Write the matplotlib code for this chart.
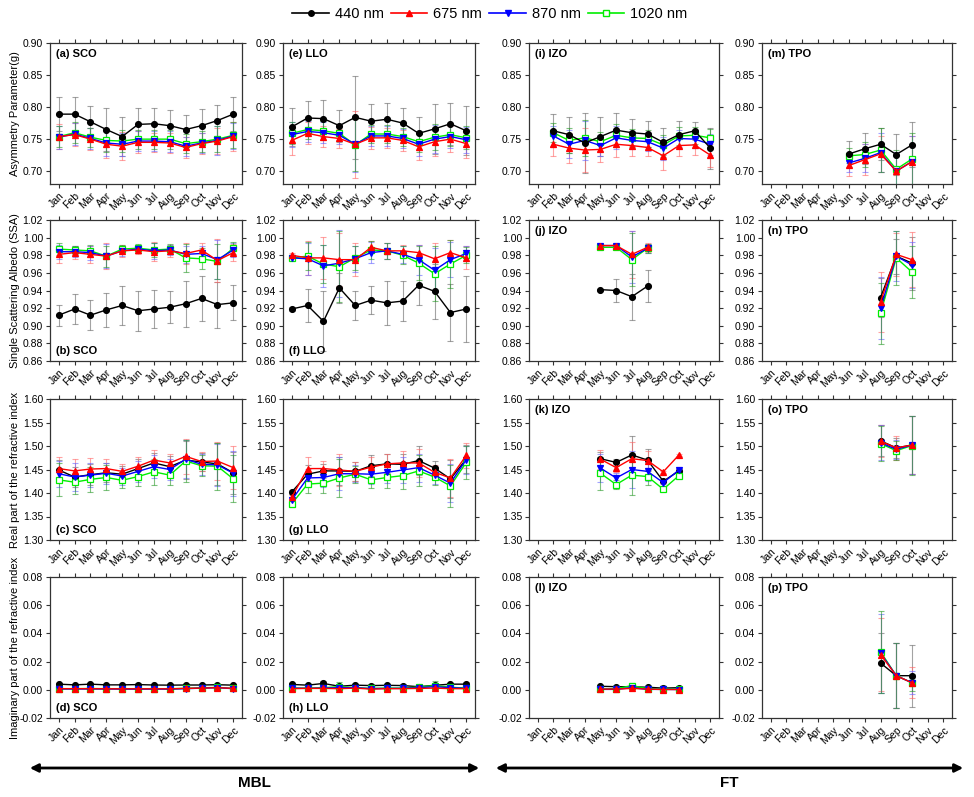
import matplotlib
matplotlib.use("Agg")
import matplotlib.pyplot as plt
from matplotlib.patches import FancyArrowPatch
from matplotlib.lines import Line2D

plt.rcParams['font.family'] = ['Liberation Sans', 'DejaVu Sans']

months = ['Jan', 'Feb', 'Mar', 'Apr', 'May', 'Jun', 'Jul', 'Aug', 'Sep', 'Oct', 'Nov', 'Dec']
waves = ['440 nm', '675 nm', '870 nm', '1020 nm']

# month numbers with data for each site
m_full = [1, 2, 3, 4, 5, 6, 7, 8, 9, 10, 11, 12]
m_izo_g = [2, 3, 4, 5, 6, 7, 8, 9, 10, 11, 12]
m_tpo_g = [6, 7, 8, 9, 10]
m_izo_ssa = [5, 6, 7, 8]
m_tpo_ssa = [8, 9, 10]
m_izo_n = [5, 6, 7, 8, 9, 10]
m_tpo_n = [8, 9, 10]

# ---- asymmetry parameter (rows: 440, 675, 870, 1020) ----
g_sco = [[0.789, 0.789, 0.777, 0.765, 0.754, 0.773, 0.774, 0.771, 0.765, 0.771, 0.779, 0.789],
         [0.754, 0.757, 0.750, 0.742, 0.739, 0.745, 0.745, 0.744, 0.737, 0.743, 0.747, 0.754],
         [0.753, 0.758, 0.751, 0.744, 0.742, 0.747, 0.747, 0.746, 0.739, 0.744, 0.748, 0.755],
         [0.754, 0.760, 0.753, 0.748, 0.747, 0.750, 0.750, 0.750, 0.743, 0.746, 0.750, 0.756]]
g_sco_err = [[0.026, 0.027, 0.024, 0.033, 0.030, 0.025, 0.024, 0.024, 0.022, 0.026, 0.024, 0.026],
             [0.020, 0.018, 0.017, 0.022, 0.022, 0.017, 0.015, 0.016, 0.016, 0.016, 0.020, 0.022],
             [0.018, 0.017, 0.016, 0.020, 0.018, 0.016, 0.015, 0.016, 0.015, 0.016, 0.022, 0.020],
             [0.017, 0.016, 0.015, 0.018, 0.017, 0.015, 0.015, 0.015, 0.015, 0.016, 0.020, 0.020]]
g_llo = [[0.769, 0.783, 0.782, 0.771, 0.784, 0.778, 0.781, 0.775, 0.759, 0.766, 0.774, 0.763],
         [0.748, 0.759, 0.754, 0.751, 0.742, 0.752, 0.752, 0.748, 0.738, 0.746, 0.750, 0.743],
         [0.757, 0.762, 0.760, 0.756, 0.742, 0.755, 0.755, 0.751, 0.742, 0.750, 0.754, 0.749],
         [0.759, 0.765, 0.763, 0.759, 0.741, 0.758, 0.758, 0.754, 0.746, 0.753, 0.757, 0.752]]
g_llo_err = [[0.030, 0.026, 0.029, 0.025, 0.065, 0.027, 0.025, 0.023, 0.026, 0.039, 0.033, 0.038],
             [0.022, 0.017, 0.017, 0.015, 0.052, 0.017, 0.016, 0.016, 0.020, 0.022, 0.020, 0.022],
             [0.019, 0.016, 0.016, 0.013, 0.043, 0.015, 0.015, 0.015, 0.018, 0.022, 0.018, 0.020],
             [0.017, 0.015, 0.015, 0.012, 0.040, 0.014, 0.014, 0.014, 0.016, 0.020, 0.017, 0.018]]
g_izo = [[0.763, 0.757, 0.744, 0.754, 0.764, 0.760, 0.758, 0.745, 0.757, 0.763, 0.736],
         [0.742, 0.736, 0.733, 0.734, 0.742, 0.740, 0.737, 0.724, 0.740, 0.741, 0.725],
         [0.755, 0.742, 0.748, 0.740, 0.752, 0.748, 0.746, 0.736, 0.751, 0.750, 0.742],
         [0.760, 0.748, 0.752, 0.746, 0.756, 0.752, 0.751, 0.741, 0.755, 0.756, 0.752]]
g_izo_err = [[0.026, 0.028, 0.047, 0.030, 0.026, 0.021, 0.020, 0.023, 0.021, 0.014, 0.032],
             [0.018, 0.023, 0.035, 0.020, 0.020, 0.016, 0.014, 0.022, 0.016, 0.016, 0.018],
             [0.016, 0.022, 0.030, 0.016, 0.018, 0.014, 0.014, 0.018, 0.014, 0.014, 0.016],
             [0.015, 0.020, 0.028, 0.015, 0.018, 0.014, 0.013, 0.016, 0.014, 0.013, 0.014]]
g_tpo = [[0.727, 0.735, 0.742, 0.726, 0.741],
         [0.709, 0.718, 0.727, 0.700, 0.715],
         [0.713, 0.720, 0.729, 0.700, 0.715],
         [0.724, 0.726, 0.733, 0.703, 0.719]]
g_tpo_err = [[0.020, 0.024, 0.025, 0.032, 0.035],
             [0.016, 0.024, 0.028, 0.006, 0.040],
             [0.014, 0.022, 0.030, 0.030, 0.040],
             [0.012, 0.020, 0.035, 0.030, 0.040]]

# ---- single scattering albedo ----
ssa_sco = [[0.912, 0.919, 0.912, 0.918, 0.923, 0.917, 0.919, 0.921, 0.925, 0.931, 0.924, 0.926],
           [0.981, 0.983, 0.981, 0.979, 0.985, 0.986, 0.984, 0.985, 0.982, 0.986, 0.974, 0.983],
           [0.984, 0.984, 0.983, 0.979, 0.985, 0.987, 0.985, 0.986, 0.981, 0.982, 0.975, 0.986],
           [0.987, 0.986, 0.985, 0.979, 0.987, 0.988, 0.986, 0.987, 0.977, 0.976, 0.973, 0.988]]
ssa_sco_err = [[0.012, 0.017, 0.017, 0.019, 0.022, 0.023, 0.022, 0.018, 0.026, 0.026, 0.026, 0.020],
               [0.010, 0.007, 0.010, 0.015, 0.007, 0.005, 0.011, 0.007, 0.012, 0.008, 0.024, 0.010],
               [0.008, 0.006, 0.008, 0.014, 0.006, 0.005, 0.009, 0.006, 0.010, 0.008, 0.022, 0.008],
               [0.007, 0.005, 0.007, 0.012, 0.005, 0.005, 0.008, 0.006, 0.016, 0.012, 0.020, 0.007]]
ssa_llo = [[0.919, 0.923, 0.905, 0.943, 0.923, 0.929, 0.926, 0.928, 0.946, 0.939, 0.915, 0.919],
           [0.980, 0.977, 0.977, 0.975, 0.975, 0.989, 0.985, 0.985, 0.983, 0.976, 0.983, 0.977],
           [0.977, 0.976, 0.968, 0.971, 0.976, 0.983, 0.985, 0.981, 0.975, 0.963, 0.975, 0.982],
           [0.977, 0.979, 0.970, 0.967, 0.977, 0.986, 0.985, 0.980, 0.971, 0.959, 0.970, 0.980]]
ssa_llo_err = [[0.002, 0.019, 0.034, 0.017, 0.016, 0.016, 0.025, 0.023, 0.023, 0.031, 0.032, 0.037],
               [0.002, 0.019, 0.024, 0.030, 0.019, 0.007, 0.009, 0.007, 0.009, 0.018, 0.014, 0.013],
               [0.002, 0.018, 0.024, 0.038, 0.015, 0.012, 0.009, 0.010, 0.017, 0.025, 0.020, 0.008],
               [0.002, 0.016, 0.022, 0.040, 0.014, 0.010, 0.009, 0.010, 0.019, 0.031, 0.027, 0.009]]
ssa_izo = [[0.941, 0.940, 0.933, 0.945],
           [0.991, 0.991, 0.981, 0.989],
           [0.991, 0.991, 0.978, 0.988],
           [0.989, 0.989, 0.975, 0.988]]
ssa_izo_err = [[0.001, 0.013, 0.026, 0.018],
               [0.001, 0.002, 0.027, 0.005],
               [0.001, 0.002, 0.030, 0.005],
               [0.001, 0.002, 0.030, 0.005]]
ssa_tpo = [[0.932, 0.979, 0.971],
           [0.927, 0.981, 0.975],
           [0.920, 0.979, 0.969],
           [0.914, 0.977, 0.961]]
ssa_tpo_err = [[0.022, 0.020, 0.030],
               [0.034, 0.024, 0.031],
               [0.035, 0.028, 0.026],
               [0.035, 0.031, 0.030]]

# ---- real part of refractive index ----
n_sco = [[1.449, 1.434, 1.439, 1.443, 1.440, 1.452, 1.464, 1.456, 1.470, 1.466, 1.462, 1.443],
         [1.452, 1.447, 1.451, 1.452, 1.446, 1.457, 1.470, 1.464, 1.478, 1.467, 1.468, 1.454],
         [1.441, 1.434, 1.438, 1.442, 1.436, 1.446, 1.456, 1.450, 1.472, 1.461, 1.460, 1.442],
         [1.428, 1.423, 1.429, 1.433, 1.427, 1.435, 1.445, 1.438, 1.468, 1.458, 1.457, 1.430]]
n_sco_err = [[0.022, 0.022, 0.022, 0.020, 0.018, 0.020, 0.022, 0.022, 0.040, 0.020, 0.045, 0.045],
             [0.024, 0.026, 0.024, 0.020, 0.016, 0.020, 0.022, 0.018, 0.037, 0.020, 0.040, 0.045],
             [0.028, 0.030, 0.025, 0.022, 0.018, 0.022, 0.025, 0.022, 0.040, 0.022, 0.045, 0.048],
             [0.035, 0.026, 0.026, 0.026, 0.016, 0.020, 0.027, 0.022, 0.045, 0.022, 0.050, 0.050]]
n_llo = [[1.402, 1.440, 1.447, 1.447, 1.446, 1.458, 1.462, 1.461, 1.469, 1.453, 1.430, 1.472],
         [1.391, 1.452, 1.452, 1.449, 1.446, 1.455, 1.462, 1.464, 1.464, 1.444, 1.432, 1.480],
         [1.385, 1.432, 1.433, 1.441, 1.441, 1.440, 1.444, 1.449, 1.454, 1.438, 1.421, 1.471],
         [1.377, 1.419, 1.421, 1.432, 1.440, 1.428, 1.433, 1.437, 1.447, 1.434, 1.415, 1.465]]
n_llo_err = [[0.004, 0.020, 0.015, 0.030, 0.020, 0.022, 0.020, 0.022, 0.030, 0.015, 0.040, 0.030],
             [0.004, 0.025, 0.016, 0.035, 0.020, 0.022, 0.020, 0.025, 0.030, 0.015, 0.040, 0.026],
             [0.005, 0.020, 0.020, 0.035, 0.018, 0.020, 0.022, 0.028, 0.030, 0.018, 0.040, 0.030],
             [0.006, 0.018, 0.020, 0.040, 0.018, 0.017, 0.022, 0.028, 0.033, 0.018, 0.045, 0.035]]
n_izo = [[1.473, 1.465, 1.481, 1.470, 1.425, 1.447],
         [1.472, 1.454, 1.473, 1.469, 1.445, 1.481],
         [1.453, 1.432, 1.450, 1.446, 1.422, 1.449],
         [1.442, 1.418, 1.438, 1.435, 1.408, 1.437]]
n_izo_err = [[0.015, 0.008, 0.040, 0.024, 0.003, 0.004],
             [0.020, 0.010, 0.036, 0.020, 0.002, 0.002],
             [0.030, 0.010, 0.040, 0.020, 0.002, 0.004],
             [0.035, 0.010, 0.042, 0.018, 0.002, 0.002]]
n_tpo = [[1.511, 1.496, 1.502],
         [1.510, 1.496, 1.502],
         [1.507, 1.493, 1.502],
         [1.505, 1.490, 1.501]]
n_tpo_err = [[0.033, 0.022, 0.062],
             [0.034, 0.026, 0.062],
             [0.037, 0.020, 0.062],
             [0.037, 0.020, 0.062]]

# ---- imaginary part of refractive index ----
k_sco = [[0.0040, 0.0035, 0.0040, 0.0035, 0.0035, 0.0037, 0.0034, 0.0033, 0.0034, 0.0034, 0.0036, 0.0033],
         [0.0008, 0.0008, 0.0008, 0.0007, 0.0007, 0.0007, 0.0007, 0.0007, 0.0010, 0.0012, 0.0015, 0.0010],
         [0.0006, 0.0006, 0.0006, 0.0006, 0.0005, 0.0005, 0.0005, 0.0005, 0.0008, 0.0012, 0.0015, 0.0008],
         [0.0008, 0.0008, 0.0009, 0.0008, 0.0008, 0.0008, 0.0008, 0.0007, 0.0011, 0.0014, 0.0017, 0.0010]]
k_sco_err = [[0.0008] * 12, [0.0005] * 12, [0.0005] * 12, [0.0005] * 12]
k_llo = [[0.0038, 0.0033, 0.0045, 0.0025, 0.0033, 0.0030, 0.0032, 0.0030, 0.0022, 0.0032, 0.0040, 0.0040],
         [0.0008, 0.0010, 0.0010, 0.0008, 0.0012, 0.0005, 0.0008, 0.0008, 0.0010, 0.0012, 0.0008, 0.0008],
         [0.0012, 0.0010, 0.0012, 0.0015, 0.0015, 0.0008, 0.0010, 0.0010, 0.0015, 0.0022, 0.0015, 0.0010],
         [0.0012, 0.0012, 0.0015, 0.0022, 0.0015, 0.0010, 0.0012, 0.0012, 0.0020, 0.0030, 0.0018, 0.0012]]
k_llo_err = [[0.0010, 0.0010, 0.0015, 0.0010, 0.0010, 0.0010, 0.0010, 0.0010, 0.0010, 0.0010, 0.0010, 0.0015],
             [0.0008] * 12,
             [0.0010] * 12,
             [0.0010, 0.0010, 0.0010, 0.0030, 0.0010, 0.0010, 0.0010, 0.0010, 0.0010, 0.0030, 0.0010, 0.0010]]
k_izo = [[0.0025, 0.0022, 0.0022, 0.0018, 0.0012, 0.0015],
         [0.0005, 0.0005, 0.0010, 0.0005, 0.0002, 0.0002],
         [0.0003, 0.0003, 0.0015, 0.0003, 0.0003, 0.0002],
         [0.0005, 0.0008, 0.0030, 0.0008, 0.0005, 0.0005]]
k_izo_err = [[0.0008] * 6, [0.0008] * 6, [0.0008] * 6,
             [0.0008, 0.0008, 0.0015, 0.0008, 0.0008, 0.0008]]
k_tpo = [[0.019, 0.010, 0.010],
         [0.025, 0.010, 0.005],
         [0.026, 0.010, 0.005],
         [0.027, 0.010, 0.005]]
k_tpo_err = [[0.021, 0.023, 0.022],
             [0.026, 0.023, 0.011],
             [0.028, 0.023, 0.008],
             [0.029, 0.023, 0.006]]

colors = ['black', '#ff0000', '#0000ff', '#00ee00']
err_colors = ['#666666', '#ff6666', '#6666ff', '#2a9a2a']
markers = ['o', '^', 'v', 's']

W, H = 974, 797
fig = plt.figure(figsize=(W / 100, H / 100), dpi=100)

col_left = [50, 283, 529, 762]
col_width = [192, 192, 190, 190]
row_top = [43, 220, 399, 577]
row_h = 141

rows = [
    dict(ylim=(0.68, 0.90), ticks=[0.70, 0.75, 0.80, 0.85, 0.90],
         label='Asymmetry Parameter(g)',
         panels=[(m_full, g_sco, g_sco_err, '(a) SCO', 'top'),
                 (m_full, g_llo, g_llo_err, '(e) LLO', 'top'),
                 (m_izo_g, g_izo, g_izo_err, '(i) IZO', 'top'),
                 (m_tpo_g, g_tpo, g_tpo_err, '(m) TPO', 'top')]),
    dict(ylim=(0.86, 1.02), ticks=[0.86, 0.88, 0.90, 0.92, 0.94, 0.96, 0.98, 1.00, 1.02],
         label='Single Scattering Albedo (SSA)',
         panels=[(m_full, ssa_sco, ssa_sco_err, '(b) SCO', 'bottom'),
                 (m_full, ssa_llo, ssa_llo_err, '(f) LLO', 'bottom'),
                 (m_izo_ssa, ssa_izo, ssa_izo_err, '(j) IZO', 'top'),
                 (m_tpo_ssa, ssa_tpo, ssa_tpo_err, '(n) TPO', 'top')]),
    dict(ylim=(1.30, 1.60), ticks=[1.30, 1.35, 1.40, 1.45, 1.50, 1.55, 1.60],
         label='Real part of the refractive index',
         panels=[(m_full, n_sco, n_sco_err, '(c) SCO', 'bottom'),
                 (m_full, n_llo, n_llo_err, '(g) LLO', 'bottom'),
                 (m_izo_n, n_izo, n_izo_err, '(k) IZO', 'top'),
                 (m_tpo_n, n_tpo, n_tpo_err, '(o) TPO', 'top')]),
    dict(ylim=(-0.02, 0.08), ticks=[-0.02, 0.00, 0.02, 0.04, 0.06, 0.08],
         label='Imaginary part of the refractive index',
         panels=[(m_full, k_sco, k_sco_err, '(d) SCO', 'bottom'),
                 (m_full, k_llo, k_llo_err, '(h) LLO', 'bottom'),
                 (m_izo_n, k_izo, k_izo_err, '(l) IZO', 'top'),
                 (m_tpo_ssa, k_tpo, k_tpo_err, '(p) TPO', 'top')]),
]

for r, row in enumerate(rows):
    for c, (mon, vals, errs, name, pos) in enumerate(row['panels']):
        l = col_left[c]
        t = row_top[r]
        ax = fig.add_axes([l / W, 1 - (t + row_h) / H, col_width[c] / W, row_h / H])
        for i in range(4):
            ax.errorbar(mon, vals[i], yerr=errs[i], fmt='none', ecolor=err_colors[i],
                        elinewidth=0.8, capsize=2, capthick=0.8, alpha=0.6, zorder=2)
        for i in [3, 2, 1, 0] if r == 0 else [0, 3, 2, 1]:
            face = 'white' if i == 3 else colors[i]
            ax.plot(mon, vals[i], color=colors[i], lw=1.0, marker=markers[i], ms=4.2,
                    mfc=face, mec=colors[i], mew=0.9, zorder=3)
        ax.set_xlim(0.45, 12.55)
        ax.set_ylim(*row['ylim'])
        ax.set_xticks(m_full)
        ax.set_xticklabels(months, rotation=45, ha='right', va='top',
                           rotation_mode='anchor', fontsize=7.5)
        ax.set_yticks(row['ticks'])
        ax.set_yticklabels(['{:.2f}'.format(v) for v in row['ticks']], fontsize=7.5)
        ax.tick_params(direction='out', length=3, width=0.8, top=True, right=True,
                       pad=2, color='#333333')
        for s in ax.spines.values():
            s.set_linewidth(0.9)
            s.set_color('#333333')
        ty = 0.92 if pos == 'top' else 0.07
        ax.text(0.03, ty, name, transform=ax.transAxes, fontsize=8,
                fontweight='bold', va='center', ha='left')
    fig.text(15 / W, 1 - (row_top[r] + row_h / 2) / H, row['label'], rotation=90,
             ha='center', va='center', fontsize=8)

# legend at top
handles = [Line2D([], [], color=colors[i], marker=markers[i], ms=4,
                  mfc='white' if i == 3 else colors[i], mec=colors[i], lw=1.2)
           for i in range(4)]
fig.legend(handles, waves, loc='center', bbox_to_anchor=(490 / W, 1 - 14 / H), ncol=4,
           frameon=False, fontsize=10.5, handlelength=2.5, handletextpad=0.4,
           columnspacing=0.5)

# bottom arrows with region labels
arr_y = 1 - 768 / H
for x0, x1, txt in [(27, 482, 'MBL'), (493, 966, 'FT')]:
    fig.add_artist(FancyArrowPatch((x0 / W, arr_y), (x1 / W, arr_y),
                                   transform=fig.transFigure, arrowstyle='<|-|>',
                                   mutation_scale=12, lw=2, color='black'))
    fig.text((x0 + x1) / 2 / W, 1 - 783 / H, txt, ha='center', va='center',
             fontsize=11, fontweight='bold')

fig.savefig('out.png', dpi=100)
